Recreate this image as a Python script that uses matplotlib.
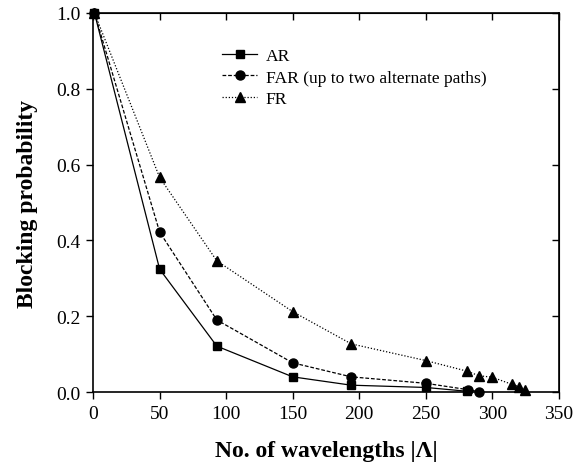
import matplotlib
matplotlib.use('Agg')
import matplotlib.pyplot as plt

plt.rcParams['font.family'] = ['Liberation Serif', 'DejaVu Serif']

# blocking probability vs number of wavelengths
ar_x = [1, 50, 93, 150, 194, 250, 281]
ar_y = [1.0, 0.324, 0.121, 0.040, 0.018, 0.012, 0.002]

far_x = [1, 50, 93, 150, 194, 250, 282, 290]
far_y = [1.0, 0.422, 0.190, 0.077, 0.040, 0.023, 0.006, 0.001]

fr_x = [1, 50, 93, 150, 194, 250, 281, 290, 300, 315, 320, 325]
fr_y = [1.0, 0.566, 0.346, 0.212, 0.127, 0.083, 0.055, 0.043, 0.039, 0.020, 0.014, 0.004]

labels = ['AR', 'FAR (up to two alternate paths)', 'FR']

fig = plt.figure(figsize=(5.82, 4.64), dpi=100)
ax = fig.add_axes([0.16, 0.153, 0.80, 0.817])

ax.plot(ar_x, ar_y, color='black', lw=0.9, ls='-', marker='s', ms=6, label=labels[0], clip_on=False)
ax.plot(far_x, far_y, color='black', lw=0.9, ls=(0, (3, 1.5)), marker='o', ms=6.5, label=labels[1], clip_on=False)
ax.plot(fr_x, fr_y, color='black', lw=0.9, ls=(0, (1, 1.5)), marker='^', ms=7, label=labels[2], clip_on=False)

ax.set_xlim(0, 350)
ax.set_ylim(0, 1.0)
ax.set_xticks(range(0, 351, 50))
ax.set_yticks([0.0, 0.2, 0.4, 0.6, 0.8, 1.0])
ax.set_yticklabels(['0.0', '0.2', '0.4', '0.6', '0.8', '1.0'])
ax.tick_params(direction='out', length=5, width=1, labelsize=14, pad=4)
for s in ax.spines.values():
    s.set_linewidth(1.2)

# mirrored ticks on top and right point inward
top = ax.secondary_xaxis('top')
top.set_xticks(range(0, 351, 50))
top.tick_params(direction='in', length=5, width=1, labeltop=False)
right = ax.secondary_yaxis('right')
right.set_yticks([0.0, 0.2, 0.4, 0.6, 0.8, 1.0])
right.tick_params(direction='in', length=5, width=1, labelright=False)

ax.set_xlabel('No. of wavelengths |Λ|', fontsize=17, fontweight='bold', labelpad=13)
ax.set_ylabel('Blocking probability', fontsize=17, fontweight='bold', labelpad=13)

ax.legend(loc='upper left', bbox_to_anchor=(0.277, 0.908), frameon=False, fontsize=12.6,
          handlelength=2.0, handletextpad=0.5, labelspacing=0.3, borderpad=0,
          borderaxespad=0)

fig.savefig('out.png', dpi=100)
